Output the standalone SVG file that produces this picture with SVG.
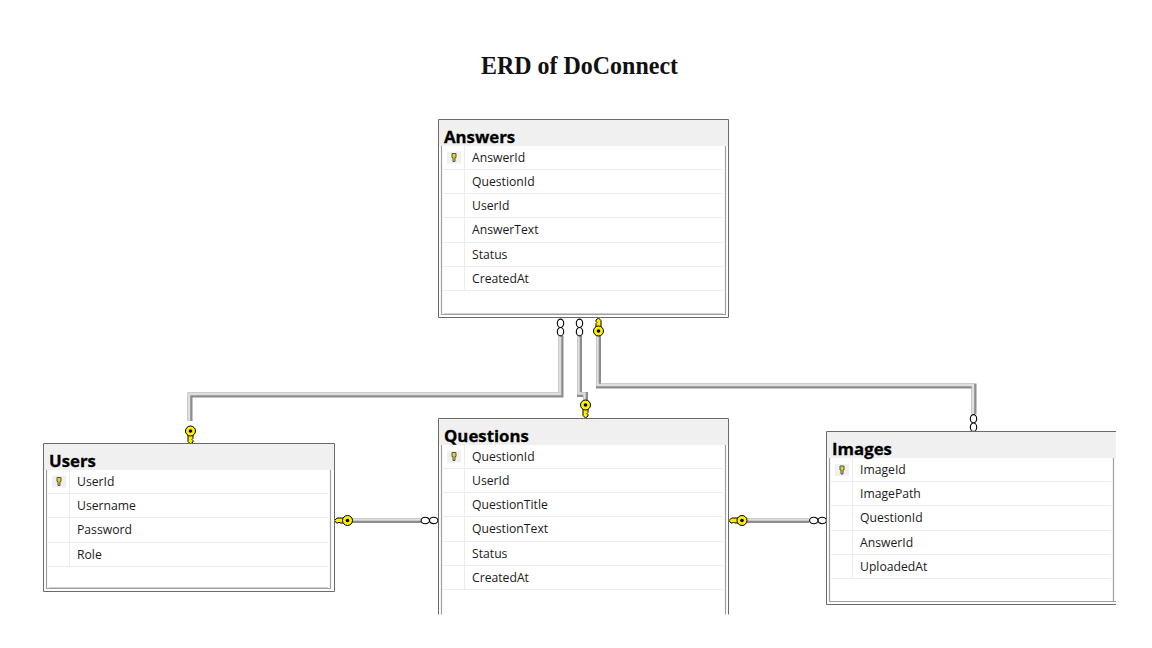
<svg xmlns="http://www.w3.org/2000/svg" width="1152" height="648" viewBox="0 0 1152 648">
<style>
.hd{fill:#f0f0f0}
.ln{stroke:#6a6a6a;stroke-width:1;fill:none}
.in{stroke:#a0a0a0;stroke-width:1.200;fill:none}
.in2{stroke:#cfcfcf;stroke-width:1;fill:none}
.sep{stroke:#ececec;stroke-width:1;fill:none}
.t{font-family:"Open Sans","Noto Sans",sans-serif;font-size:12.2px;fill:#1a1a1a}
.h{font-family:"Open Sans","Noto Sans",sans-serif;font-size:16.800px;font-weight:700;fill:#000;stroke:#000;stroke-width:.3}
.title{font-family:"Liberation Serif",serif;font-size:25px;font-weight:700;fill:#111}
.c0{fill:none;stroke:#8c8c8c;stroke-width:5}
.c1{fill:none;stroke:#dedede;stroke-width:2.500}
.z{fill:#fff;stroke:#000;stroke-width:1.100}
.k{fill:#ffee00;stroke:#000;stroke-width:1;stroke-linejoin:round}
</style>
<defs>
<g id="key">
<path class="k" d="M-2.500-4V10.500L0 13L2.500 11V9.500L1.500 8.500L2.500 7.500V-4Z"/>
<circle class="k" r="5"/>
<circle r="1.800" fill="#000"/>
</g>
<g id="zero"><ellipse cx="0" cy="-4.200" rx="3.200" ry="4.200" class="z"/><ellipse cx="0" cy="4.200" rx="3.200" ry="4.200" class="z"/></g>
<g id="pk">
<rect x="-7" y="-6" width="14" height="12" fill="#f0f0f0"/>
<path d="M-2-4H2V0H1V4H-1V0H-2Z" fill="#e8d800" stroke="#555" stroke-width="1"/>
</g>
</defs>
<text class="title" x="579.500" y="74" text-anchor="middle" textLength="197" lengthAdjust="spacingAndGlyphs">ERD of DoConnect</text>
<g id="connectors">
<path class="c0" d="M561 336V395H190V421"/><path class="c1" d="M560 336V394H189V421"/>
<path class="c0" d="M579.500 336V394.500H585.500V403"/><path class="c1" d="M578.500 336V393.500H584.500V403"/>
<path class="c0" d="M598.500 336V386H974V414"/><path class="c1" d="M597.500 336V385H973V414"/>
<path class="c0" d="M352 520.500H421"/><path class="c1" d="M352 519.500H421"/>
<path class="c0" d="M747 520.500H809"/><path class="c1" d="M747 519.500H809"/>
<use href="#zero" x="560.500" y="327.500"/>
<use href="#zero" x="579.500" y="327.500"/>
<use href="#key" transform="translate(598.500 331) rotate(180)"/>
<use href="#key" transform="translate(585.500 405)"/>
<use href="#key" transform="translate(190.500 431)"/>
<use href="#zero" x="973.500" y="423"/>
<use href="#key" transform="translate(347.500 520.500) rotate(90)"/>
<use href="#zero" transform="translate(429.500 520.500) rotate(90)"/>
<use href="#key" transform="translate(742 520.500) rotate(90)"/>
<use href="#zero" transform="translate(818 520.500) rotate(90)"/>
</g>
<g id="answers">
<rect class="hd" x="439" y="120" width="289" height="26"/>
<path class="ln" d="M438.500 317.500V119.500H728.500V317.500Z"/>
<path class="in" d="M441.500 146V314.500H725.500V146"/>
<path class="in2" d="M444 313.500H723"/>
<path class="sep" d="M443 169.500H723M443 193.500H723M443 217.500H723M443 242.500H723M443 266.500H723M443 290.500H723M464.500 146V290"/>
<text class="h" x="444" y="143">Answers</text>
<use href="#pk" x="454" y="157.500"/>
<text class="t" x="472" y="162">AnswerId</text>
<text class="t" x="472" y="186">QuestionId</text>
<text class="t" x="472" y="210">UserId</text>
<text class="t" x="472" y="234">AnswerText</text>
<text class="t" x="472" y="259">Status</text>
<text class="t" x="472" y="283">CreatedAt</text>
</g>
<g id="users">
<rect class="hd" x="44" y="444" width="290" height="26"/>
<path class="ln" d="M43.500 591.500V443.500H334.500V591.500Z"/>
<path class="in" d="M46.500 470V588.500H330.500V470"/>
<path class="in2" d="M49 587.500H328"/>
<path class="sep" d="M48 493.500H328M48 517.500H328M48 542.500H328M48 566.500H328M69.500 470V566"/>
<text class="h" x="49" y="467">Users</text>
<use href="#pk" x="59" y="481.500"/>
<text class="t" x="77" y="486">UserId</text>
<text class="t" x="77" y="510">Username</text>
<text class="t" x="77" y="534">Password</text>
<text class="t" x="77" y="559">Role</text>
</g>
<g id="questions">
<rect class="hd" x="439" y="419" width="289" height="26"/>
<path class="ln" d="M438.500 614.500V418.500H728.500V614.500"/>
<path class="in" d="M441.500 445V614.500M725.500 445V614.500"/>
<path class="sep" d="M443 468.500H723M443 492.500H723M443 516.500H723M443 541.500H723M443 565.500H723M443 589.500H723M464.500 445V589"/>
<text class="h" x="444" y="442">Questions</text>
<use href="#pk" x="454" y="456.500"/>
<text class="t" x="472" y="461">QuestionId</text>
<text class="t" x="472" y="485">UserId</text>
<text class="t" x="472" y="509">QuestionTitle</text>
<text class="t" x="472" y="533">QuestionText</text>
<text class="t" x="472" y="558">Status</text>
<text class="t" x="472" y="582">CreatedAt</text>
</g>
<g id="images">
<rect class="hd" x="827" y="432" width="289" height="26"/>
<path class="ln" d="M1116 431.500H826.500V604.500H1116"/>
<path class="in" d="M829.500 458V601.500H1116M1113.500 458V601"/>
<path class="sep" d="M831 481.500H1111M831 505.500H1111M831 530.500H1111M831 554.500H1111M831 578.500H1111M852.500 458V578"/>
<text class="h" x="832" y="455">Images</text>
<use href="#pk" x="842" y="470"/>
<text class="t" x="860" y="474">ImageId</text>
<text class="t" x="860" y="498">ImagePath</text>
<text class="t" x="860" y="522">QuestionId</text>
<text class="t" x="860" y="547">AnswerId</text>
<text class="t" x="860" y="571">UploadedAt</text>
</g>
</svg>
